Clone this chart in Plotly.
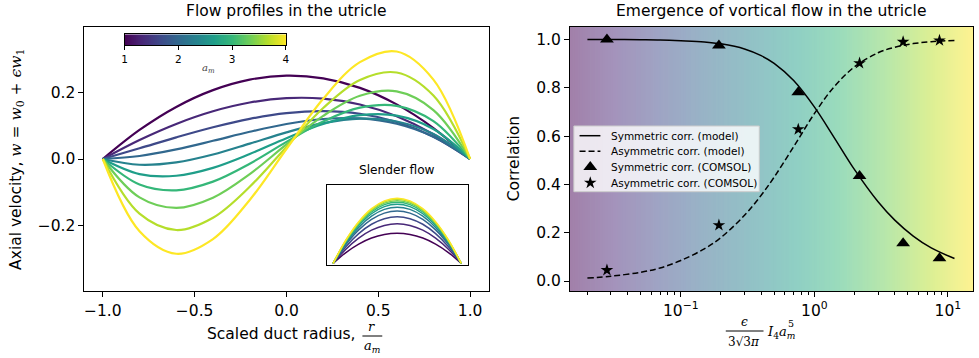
import numpy as np
import plotly.graph_objects as go
from plotly.colors import sample_colorscale, unlabel_rgb

W, H = 979, 358

# ---------------- data: left panel (flow profiles) ----------------
r_grid = [-1.0, -0.8, -0.6, -0.4, -0.2, 0.0, 0.2, 0.4, 0.6, 0.8, 1.0]
a_m_values = [1.0, 1.333, 1.667, 2.0, 2.333, 2.667, 3.0, 3.333, 3.667, 4.0]
profiles = [
    [0, 0.0871, 0.1562, 0.2066, 0.2381, 0.2500, 0.2419, 0.2134, 0.1638, 0.0929, 0],
    [0, 0.0571, 0.1053, 0.1432, 0.1694, 0.1825, 0.1810, 0.1634, 0.1283, 0.0743, 0],
    [0, 0.0322, 0.0650, 0.0953, 0.1205, 0.1375, 0.1435, 0.1357, 0.1110, 0.0668, 0],
    [0, 0.0090, 0.0288, 0.0546, 0.0816, 0.1050, 0.1200, 0.1218, 0.1056, 0.0666, 0],
    [0, -0.0173, -0.0102, 0.0134, 0.0461, 0.0800, 0.1075, 0.1210, 0.1126, 0.0749, 0],
    [0, -0.0452, -0.0502, -0.0265, 0.0149, 0.0625, 0.1051, 0.1315, 0.1302, 0.0902, 0],
    [0, -0.0766, -0.0939, -0.0678, -0.0142, 0.0513, 0.1126, 0.1539, 0.1595, 0.1135, 0],
    [0, -0.1153, -0.1467, -0.1161, -0.0454, 0.0438, 0.1294, 0.1896, 0.2027, 0.1468, 0],
    [0, -0.1641, -0.2130, -0.1762, -0.0833, 0.0363, 0.1529, 0.2371, 0.2594, 0.1902, 0],
    [0, -0.2167, -0.2842, -0.2402, -0.1229, 0.0300, 0.1805, 0.2906, 0.3226, 0.2383, 0],
]
# inset "Slender flow": parabolic shape and amplitude per a_m
slender_shape = [0, 0.36, 0.64, 0.84, 0.96, 1.0, 0.96, 0.84, 0.64, 0.36, 0]
slender_amplitude = [0.116, 0.152, 0.179, 0.201, 0.216, 0.227, 0.235, 0.241, 0.246, 0.250]

# ---------------- data: right panel (correlations) ----------------
model_x = [0.02, 0.03, 0.05, 0.07, 0.1, 0.15, 0.2, 0.3, 0.4, 0.5, 0.7, 1.0,
           1.4, 2.0, 3.0, 4.0, 5.5, 7.5, 11.2]
sym_model = [1.000, 1.000, 0.999, 0.998, 0.995, 0.990, 0.982, 0.961, 0.933, 0.901,
             0.830, 0.721, 0.596, 0.461, 0.328, 0.252, 0.186, 0.137, 0.093]
asym_model = [0.012, 0.020, 0.036, 0.054, 0.085, 0.133, 0.180, 0.272, 0.355, 0.430,
              0.556, 0.693, 0.803, 0.887, 0.945, 0.968, 0.983, 0.991, 0.996]
comsol_x = [0.028, 0.193, 0.758, 2.18, 4.62, 8.65]
sym_comsol = [1.0, 0.975, 0.782, 0.435, 0.156, 0.094]
asym_comsol = [0.045, 0.231, 0.628, 0.902, 0.990, 0.996]

legend_labels = ["Symmetric corr. (model)", "Asymmetric corr. (model)",
                 "Symmetric corr. (COMSOL)", "Asymmetric corr. (COMSOL)"]

x_ticks_left = [-1.0, -0.5, 0.0, 0.5, 1.0]
y_ticks_left = [-0.2, 0.0, 0.2]
y_ticks_right = [0.0, 0.2, 0.4, 0.6, 0.8, 1.0]
x_ticks_right = [0.1, 1, 10]
x_ticktext_right = ["10<sup>\u22121</sup>", "10<sup>0</sup>", "10<sup>1</sup>"]
cbar_ticks = [1, 2, 3, 4]

# ---------------- helpers ----------------
FONT = "DejaVu Sans"
SERIF = "DejaVu Serif"


def px(x):
    return x / W


def py(y):
    return 1 - y / H


curve_colors = sample_colorscale("Viridis", [(a - 1) / 3 for a in a_m_values])

fig = go.Figure()

# main profiles
for prof, col in zip(profiles, curve_colors):
    fig.add_trace(go.Scatter(x=r_grid, y=prof, mode="lines",
                             line=dict(color=col, width=2.2, shape="spline"),
                             xaxis="x", yaxis="y", showlegend=False, hoverinfo="skip"))

# inset slender flow
for amp, col in zip(slender_amplitude, curve_colors):
    fig.add_trace(go.Scatter(x=r_grid, y=[amp * s for s in slender_shape], mode="lines",
                             line=dict(color=col, width=1.5, shape="spline"),
                             xaxis="x3", yaxis="y3", showlegend=False, hoverinfo="skip"))

# colorbar gradient as heatmap
cb_x = np.linspace(1, 4, 240)
fig.add_trace(go.Heatmap(x=cb_x, y=[0.5], z=[cb_x], colorscale="Viridis", zmin=1, zmax=4,
                         showscale=False, xaxis="x4", yaxis="y4", hoverinfo="skip"))

# right panel
DASH = "6px,3px"
STAR = 9.5
TRI = 12
fig.add_trace(go.Scatter(x=model_x, y=sym_model, mode="lines", showlegend=False,
                         line=dict(color="black", width=1.5, shape="spline"),
                         xaxis="x2", yaxis="y2"))
fig.add_trace(go.Scatter(x=model_x, y=asym_model, mode="lines", showlegend=False,
                         line=dict(color="black", width=1.5, dash=DASH, shape="spline"),
                         xaxis="x2", yaxis="y2"))
fig.add_trace(go.Scatter(x=comsol_x, y=sym_comsol, mode="markers", showlegend=False,
                         marker=dict(symbol="triangle-up", size=TRI, color="black"),
                         xaxis="x2", yaxis="y2"))
fig.add_trace(go.Scatter(x=comsol_x, y=asym_comsol, mode="markers", showlegend=False,
                         marker=dict(symbol="star", size=STAR, color="black"),
                         xaxis="x2", yaxis="y2"))

# ---- hand-made legend (pixel overlay axes) ----
LX0, LX1, LY0, LY1 = 575, 761.7, 126, 191.7
rows = [135.7, 151.3, 167.0, 182.8]
fig.add_trace(go.Scatter(x=[LX0, LX1, LX1, LX0, LX0], y=[LY0, LY0, LY1, LY1, LY0],
                         mode="lines", fill="toself", fillcolor="rgba(255,255,255,0.8)",
                         line=dict(color="#cccccc", width=1), xaxis="x5", yaxis="y5",
                         showlegend=False, hoverinfo="skip"))
fig.add_trace(go.Scatter(x=[580.7, 601.7], y=[rows[0], rows[0]], mode="lines",
                         line=dict(color="black", width=1.5), xaxis="x5", yaxis="y5",
                         showlegend=False, hoverinfo="skip"))
fig.add_trace(go.Scatter(x=[580.7, 601.7], y=[rows[1], rows[1]], mode="lines",
                         line=dict(color="black", width=1.5, dash=DASH), xaxis="x5", yaxis="y5",
                         showlegend=False, hoverinfo="skip"))
fig.add_trace(go.Scatter(x=[591.5], y=[rows[2]], mode="markers",
                         marker=dict(symbol="triangle-up", size=TRI, color="black"),
                         xaxis="x5", yaxis="y5", showlegend=False, hoverinfo="skip"))
fig.add_trace(go.Scatter(x=[591.5], y=[rows[3]], mode="markers",
                         marker=dict(symbol="star", size=STAR, color="black"),
                         xaxis="x5", yaxis="y5", showlegend=False, hoverinfo="skip"))

# background gradient (viridis at half opacity over white)
shapes = []
N = 160
grad_cols = sample_colorscale("Viridis", [(i + 0.5) / N for i in range(N)])
for i, c in enumerate(grad_cols):
    rr, gg, bb = unlabel_rgb(c)
    rr, gg, bb = [int(round(0.5 * v + 0.5 * 255)) for v in (rr, gg, bb)]
    shapes.append(dict(type="rect", xref="x2 domain", yref="y2 domain",
                       x0=i / N, x1=(i + 1) / N + 0.002, y0=0, y1=1,
                       fillcolor=f"rgb({rr},{gg},{bb})", line=dict(width=0), layer="below"))

# fraction bars in axis labels
shapes.append(dict(type="line", xref="paper", yref="paper", x0=px(362), x1=px(382),
                   y0=py(336), y1=py(336), line=dict(color="black", width=1)))
shapes.append(dict(type="line", xref="paper", yref="paper", x0=px(728), x1=px(766),
                   y0=py(331), y1=py(331), line=dict(color="black", width=1)))

axis_common = dict(showline=True, linecolor="black", linewidth=1, mirror=True,
                   ticks="outside", ticklen=5, tickwidth=1, tickcolor="black",
                   showgrid=False, zeroline=False,
                   tickfont=dict(family=FONT, size=15.5, color="black"))

annotations = []


def ann(x, y, text, size=15.5, family=FONT, angle=0, xanchor="center", yanchor="middle", color="black"):
    annotations.append(dict(x=px(x), y=py(y), xref="paper", yref="paper", text=text,
                            showarrow=False, textangle=angle, xanchor=xanchor, yanchor=yanchor,
                            font=dict(family=family, size=size, color=color)))


ann(285.5, 11, "Flow profiles in the utricle")
ann(774, 11, "Emergence of vortical flow in the utricle")
ann(396.7, 170, "Slender flow", size=12.2)
ann(206.7, 69, "<i>a</i><sub><i>m</i></sub>", size=10, family=SERIF, color="#444")
ann(358, 334, "Scaled duct radius,", xanchor="right")
ann(371, 326, "<i>r</i>", size=13, family=SERIF)
ann(372, 346, "<i>a</i><sub><i>m</i></sub>", size=13, family=SERIF)
ann(747, 322, "<i>\u03f5</i>", size=12, family=SERIF)
ann(746.5, 342, "3\u221a3<i>\u03c0</i>", size=12, family=SERIF)
ann(767, 332, "<i>I</i><sub>4</sub><i>a</i><sub><i>m</i></sub>", size=13, family=SERIF, xanchor="left")
ann(794, 323.5, "5", size=9.5, family=SERIF)
ann(14, 159, "Axial velocity, <span style='font-family:DejaVu Serif'><i>w</i> = <i>w</i><sub>0</sub> + <i>\u03f5w</i><sub>1</sub></span>", angle=-90)
ann(515, 159, "Correlation", angle=-90)
for lab, yy in zip(legend_labels, rows):
    ann(610, yy, lab, size=10.5, xanchor="left")

fig.update_layout(
    width=W, height=H, margin=dict(l=0, r=0, t=0, b=0),
    paper_bgcolor="white", plot_bgcolor="rgba(0,0,0,0)",
    font=dict(family=FONT, color="black"),
    showlegend=False,
    xaxis=dict(domain=[px(82), px(489)], range=[-1.1, 1.1], anchor="y",
               tickvals=x_ticks_left, tickformat=".1f", **axis_common),
    yaxis=dict(domain=[py(291), py(27)], range=[-0.396, 0.396], anchor="x",
               tickvals=y_ticks_left, tickformat=".1f", **axis_common),
    xaxis2=dict(domain=[px(571), px(977)], type="log", range=[-1.83, 1.188], anchor="y2",
                tickvals=x_ticks_right, ticktext=x_ticktext_right,
                minor=dict(ticks="outside", ticklen=3, tickwidth=0.8, tickcolor="black",
                           tickvals=[0.02, 0.03, 0.04, 0.05, 0.06, 0.07, 0.08, 0.09,
                                     0.2, 0.3, 0.4, 0.5, 0.6, 0.7, 0.8, 0.9,
                                     2, 3, 4, 5, 6, 7, 8, 9]),
                **axis_common),
    yaxis2=dict(domain=[py(291), py(27)], range=[-0.0414, 1.0518], anchor="x2",
                tickvals=y_ticks_right, tickformat=".1f", **axis_common),
    xaxis3=dict(domain=[px(326), px(468)], range=[-1.1, 1.1], anchor="y3",
                showline=True, mirror=True, linecolor="black", linewidth=1.2,
                showticklabels=False, ticks="", showgrid=False, zeroline=False),
    yaxis3=dict(domain=[py(265), py(185)], range=[-0.006, 0.301], anchor="x3",
                showline=True, mirror=True, linecolor="black", linewidth=1.2,
                showticklabels=False, ticks="", showgrid=False, zeroline=False),
    xaxis4=dict(domain=[px(122.5), px(285)], range=[1, 4], anchor="y4",
                showline=True, mirror=True, linecolor="black", linewidth=1,
                ticks="outside", ticklen=4, tickwidth=1, tickcolor="black",
                tickvals=cbar_ticks, tickfont=dict(family=FONT, size=10.5, color="black"),
                showgrid=False, zeroline=False),
    yaxis4=dict(domain=[py(45), py(34.3)], range=[0, 1], anchor="x4",
                showline=True, mirror=True, linecolor="black", linewidth=1,
                showticklabels=False, ticks="", showgrid=False, zeroline=False),
    xaxis5=dict(domain=[0, 1], range=[0, W], anchor="y5", visible=False, fixedrange=True),
    yaxis5=dict(domain=[0, 1], range=[H, 0], anchor="x5", visible=False, fixedrange=True),
    shapes=shapes,
    annotations=annotations,
)

fig.write_html("out.html")
